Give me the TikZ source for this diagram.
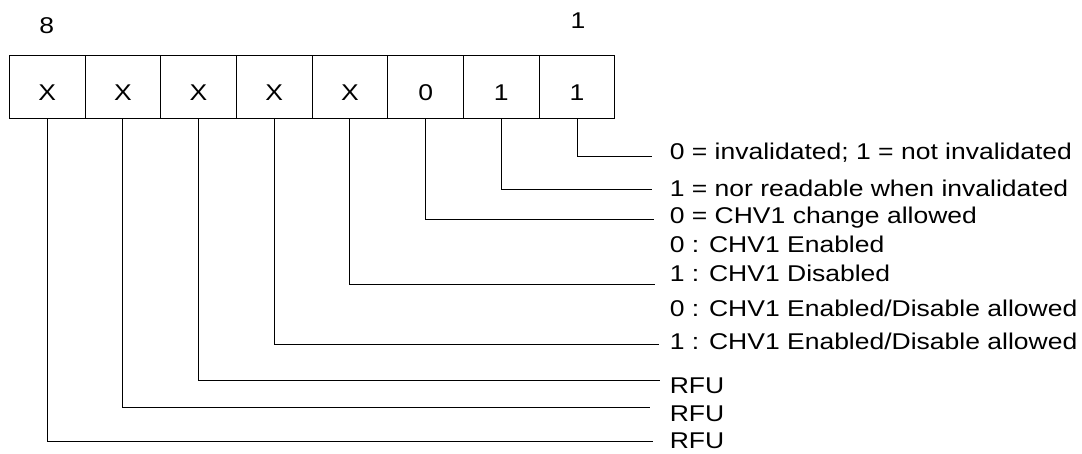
\documentclass[tikz,border=0pt]{standalone}
\usepackage{fontspec}
\setmainfont{Liberation Sans}
\usepackage{graphicx}
\usetikzlibrary{positioning}
\newcommand{\vsq}[1]{\scalebox{1}[0.86]{#1}}

\begin{document}
\begin{tikzpicture}[x=1pt,y=-1pt,
        every node/.style={inner sep=0pt,outer sep=0pt,font=\fontsize{26.5}{30}\selectfont},
        cell/.style={draw,line width=1pt,minimum width=75.7pt,minimum height=62.6pt,
                     text height=30pt,text depth=2pt},
        desc/.style={anchor=base west},
        lead/.style={line width=1pt}]
        \useasboundingbox (0,0) rectangle (1082,454);
        \node [cell] (bit8) at (47.15,87) {\vsq{X}};
        \node [cell,right=0pt of bit8] (bit7) {\vsq{X}};
        \node [cell,right=0pt of bit7] (bit6) {\vsq{X}};
        \node [cell,right=0pt of bit6] (bit5) {\vsq{X}};
        \node [cell,right=0pt of bit5] (bit4) {\vsq{X}};
        \node [cell,right=0pt of bit4] (bit3) {\vsq{0}};
        \node [cell,right=0pt of bit3] (bit2) {\vsq{1}};
        \node [cell,right=0pt of bit2] (bit1) {\vsq{1}};
        \node [anchor=base] (msb) at (46.7,33.3) {\vsq{8}};
        \node [anchor=base] (lsb) at (578,28.3) {\vsq{1}};
        \node [desc] (d1) at (669.8,160) {\vsq{0 = invalidated; 1 = not invalidated}};
        \node [desc] (d2) at (669.8,196.7) {\vsq{1 = nor readable when invalidated}};
        \node [desc] (d3) at (669.8,224) {\vsq{0 = CHV1 change allowed}};
        \node [desc] (d4a) at (669.8,252.7) {\vsq{0 : CHV1 Enabled}};
        \node [desc] (d4b) at (669.8,281.7) {\vsq{1 : CHV1 Disabled}};
        \node [desc] (d5a) at (669.8,316.7) {\vsq{0 : CHV1 Enabled/Disable allowed}};
        \node [desc] (d5b) at (669.8,350) {\vsq{1 : CHV1 Enabled/Disable allowed}};
        \node [desc] (d6) at (669.8,393.3) {\vsq{RFU}};
        \node [desc] (d7) at (669.8,421.7) {\vsq{RFU}};
        \node [desc] (d8) at (669.8,448.3) {\vsq{RFU}};
        \coordinate (e1) at (651.7,156.7);
        \coordinate (e2) at (651.7,189.3);
        \coordinate (e3) at (654,220);
        \coordinate (e4) at (655,284.3);
        \coordinate (e5) at (659,344.3);
        \coordinate (e6) at (660,380);
        \coordinate (e7) at (650,407.7);
        \coordinate (e8) at (653,441.7);
        \draw [lead] (bit1.south) |- (e1);
        \draw [lead] (bit2.south) |- (e2);
        \draw [lead] (bit3.south) |- (e3);
        \draw [lead] (bit4.south) |- (e4);
        \draw [lead] (bit5.south) |- (e5);
        \draw [lead] (bit6.south) |- (e6);
        \draw [lead] (bit7.south) |- (e7);
        \draw [lead] (bit8.south) |- (e8);
    \end{tikzpicture}
\end{document}
